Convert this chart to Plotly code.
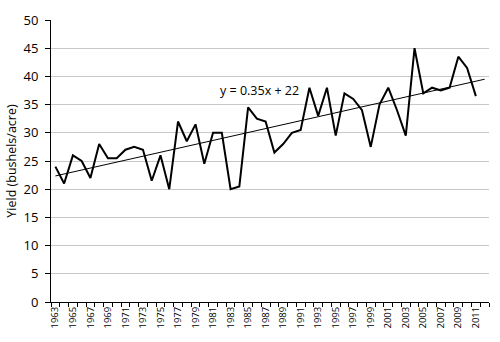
import plotly.graph_objects as go

years = list(range(1963, 2012))
yields = [24, 21, 26, 25, 22, 28, 25.5, 25.5, 27, 27.5,
          27, 21.5, 26, 20, 32, 28.5, 31.5, 24.5, 30, 30,
          20, 20.5, 34.5, 32.5, 32, 26.5, 28, 30, 30.5, 38,
          33, 38, 29.5, 37, 36, 34, 27.5, 35, 38, 34,
          29.5, 45, 37, 38, 37.5, 38, 43.5, 41.5, 36.5]
trend_slope = 0.35
trend_intercept = 22
trend_years = list(range(1963, 2013))
trend_vals = [trend_slope * (i + 1) + trend_intercept for i in range(len(trend_years))]
label_years = list(range(1963, 2012, 2))
y_ticks = list(range(0, 51, 5))

font = "Open Sans"

fig = go.Figure()
fig.add_trace(go.Scatter(x=years, y=yields, mode="lines",
                         line=dict(color="black", width=2), showlegend=False))
fig.add_trace(go.Scatter(x=trend_years, y=trend_vals, mode="lines",
                         line=dict(color="black", width=1), showlegend=False))
fig.add_annotation(x=1986.3, y=37.5, text="y = 0.35x + 22", showarrow=False,
                   font=dict(family=font, size=12.5, color="black"))

fig.update_layout(
    width=500, height=342,
    margin=dict(l=48, r=11, t=14, b=40),
    paper_bgcolor="white", plot_bgcolor="white",
    font=dict(family=font, color="black"),
    xaxis=dict(range=[1962.5, 2012.5], tickmode="array", tickvals=label_years,
               ticktext=[str(v) for v in label_years], tickangle=-90,
               tickfont=dict(size=9.5), ticks="", showgrid=False, zeroline=False,
               showline=True, linecolor="black", linewidth=1,
               minor=dict(tickmode="linear", tick0=1962.5, dtick=1, ticks="outside",
                          ticklen=4, tickcolor="black", showgrid=False)),
    yaxis=dict(range=[0, 50], tickvals=y_ticks, ticks="outside", ticklen=5,
               tickcolor="black", tickfont=dict(size=13), ticklabelstandoff=4,
               showgrid=True, gridcolor="#c8c8c8", gridwidth=1, zeroline=False,
               showline=True, linecolor="black", linewidth=1,
               title=dict(text="Yield (bushels/acre)", font=dict(size=12.5), standoff=4)),
)

fig.write_html("out.html")
